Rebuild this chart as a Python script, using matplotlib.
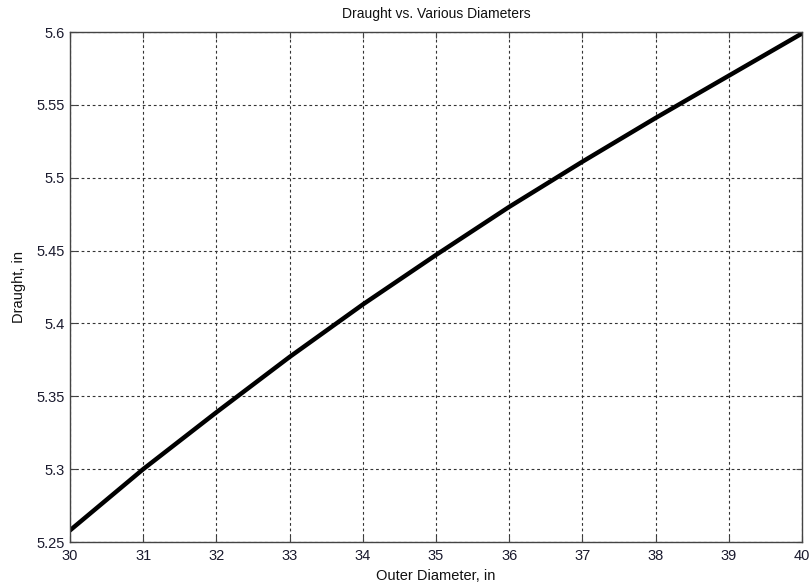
import matplotlib
matplotlib.use("Agg")
import matplotlib.pyplot as plt

diameter = [30, 31, 32, 33, 34, 35, 36, 37, 38, 39, 40]
draught = [5.258, 5.300, 5.339, 5.377, 5.413, 5.447, 5.480, 5.511, 5.541, 5.570, 5.599]
xticks = [30, 31, 32, 33, 34, 35, 36, 37, 38, 39, 40]
yticks = [5.25, 5.3, 5.35, 5.4, 5.45, 5.5, 5.55, 5.6]
ytick_labels = ["5.25", "5.3", "5.35", "5.4", "5.45", "5.5", "5.55", "5.6"]

plt.rcParams['font.family'] = ['Liberation Sans', 'DejaVu Sans']
fig = plt.figure(figsize=(8.09, 5.85), dpi=100)
ax = fig.add_axes([70/809, 43/585, 732/809, 510/585])
ax.plot(diameter, draught, color='black', linewidth=3.2)
ax.set_xlim(30, 40)
ax.set_ylim(5.25, 5.6)
ax.set_xticks(xticks)
ax.set_yticks(yticks)
ax.set_yticklabels(ytick_labels)
ax.grid(True, color='#333333', linestyle=(0, (2.5, 2.5)), linewidth=0.8)
for s in ax.spines.values():
    s.set_color('#444444')
    s.set_linewidth(1)
ax.tick_params(direction='in', length=4, labelsize=10.5, colors='#444444', labelcolor='#1a1a2e',
               top=True, right=True)
ax.tick_params(axis='x', pad=5)
ax.set_title('Draught vs. Various Diameters', fontsize=10, color='#111111', pad=10)
ax.set_xlabel('Outer Diameter, in', fontsize=10.5, color='#111111', labelpad=4)
ax.set_ylabel('Draught, in', fontsize=10.5, color='#111111', labelpad=8)
fig.savefig('out.png', dpi=100)
